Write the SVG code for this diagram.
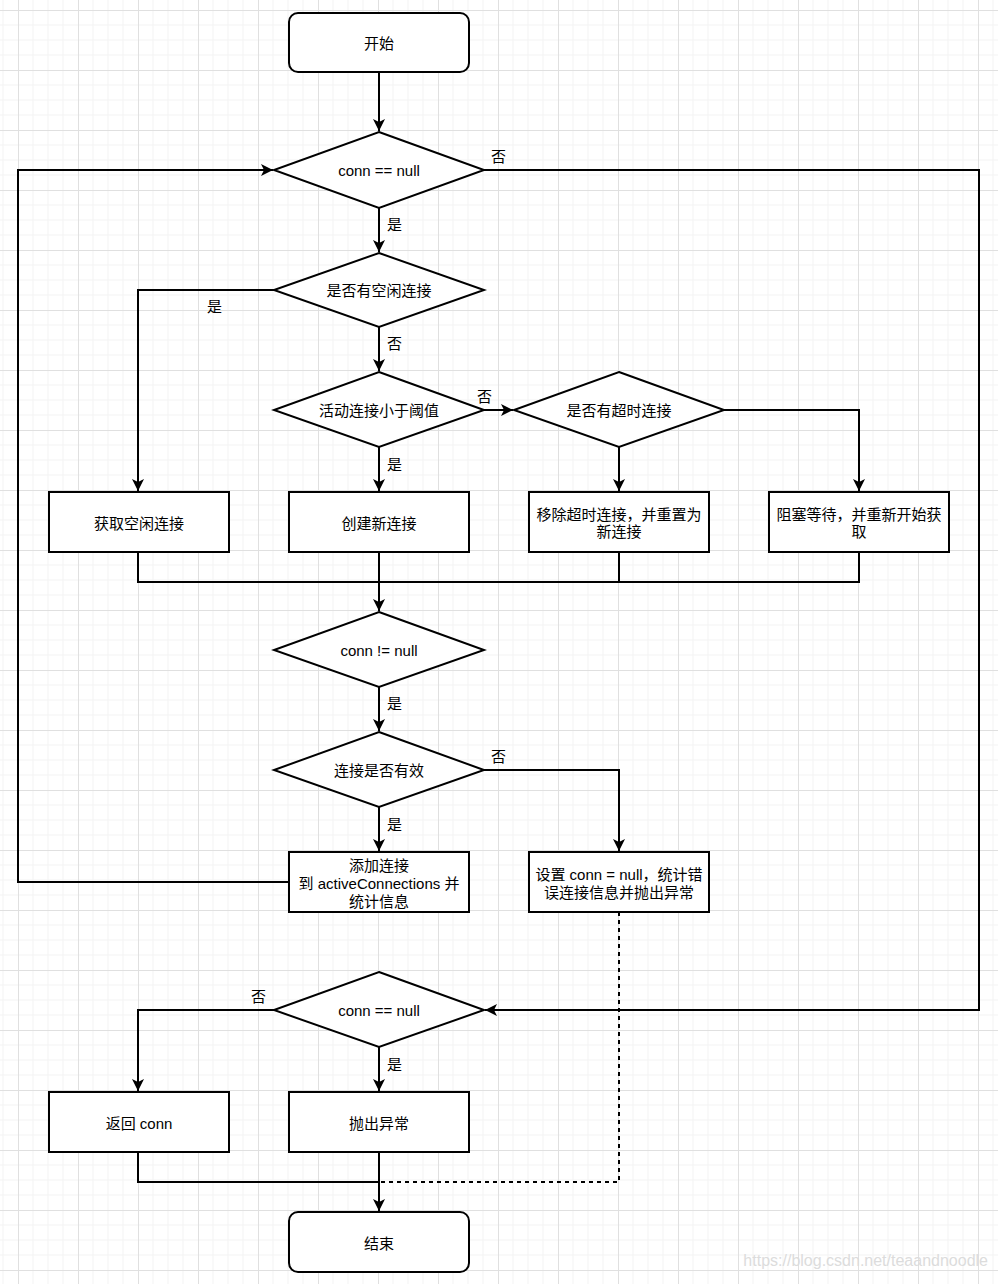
<svg xmlns="http://www.w3.org/2000/svg" width="998" height="1284" viewBox="0 0 998 1284">
<defs>
<pattern id="grid" patternUnits="userSpaceOnUse" x="18" y="10" width="60" height="60">
<path d="M15,0V60M30,0V60M45,0V60M0,15H60M0,30H60M0,45H60" stroke="#f3f3f3" stroke-width="1" fill="none"/>
<path d="M0.5,0V60M0,0.5H60" stroke="#e0e0e0" stroke-width="1" fill="none"/>
</pattern>
<marker id="arr" markerUnits="userSpaceOnUse" markerWidth="14" markerHeight="12" refX="12" refY="6" orient="auto">
<path d="M0,0 L12,6 L0,12 L3,6 Z" fill="#000"/>
</marker>
<style>
.n{fill:#fff;stroke:#000;stroke-width:2}
.t{font-family:"Liberation Sans","Noto Sans CJK SC",sans-serif;font-size:15px;fill:#000;text-anchor:middle;dominant-baseline:central}
.l{font-family:"Liberation Sans","Noto Sans CJK SC",sans-serif;font-size:15px;fill:#000;dominant-baseline:central}
.c{fill:none;stroke:#000;stroke-width:2}
.a{marker-end:url(#arr)}
.d{stroke-dasharray:4 4}
</style>
</defs>
<rect x="0" y="0" width="998" height="1284" fill="#fff"/>
<rect x="0" y="0" width="998" height="1284" fill="url(#grid)"/>

<g id="connectors">
<path class="c a" d="M379,72V131"/>
<path class="c a" d="M379,208V252"/>
<path class="c a" d="M274,290H138V491"/>
<path class="c a" d="M379,327V371"/>
<path class="c a" d="M484,410H513"/>
<path class="c a" d="M379,447V491"/>
<path class="c a" d="M619,447V491"/>
<path class="c a" d="M724,410H859V491"/>
<path class="c" d="M138,552V582H859V552M619,552V582"/>
<path class="c a" d="M379,552V611"/>
<path class="c a" d="M379,687V731"/>
<path class="c a" d="M379,807V851"/>
<path class="c a" d="M484,770H619V851"/>
<path class="c a" d="M289,882H18V170H273"/>
<path class="c a" d="M484,170H979V1010H485"/>
<path class="c a" d="M274,1010H138V1091"/>
<path class="c a" d="M379,1047V1091"/>
<path class="c" d="M138,1152V1182H379"/>
<path class="c d" d="M619,912V1182H379"/>
<path class="c a" d="M379,1152V1211"/>
<text class="l" x="491" y="156">否</text>
<text class="l" x="387" y="224">是</text>
<text class="l" x="207" y="306">是</text>
<text class="l" x="387" y="343">否</text>
<text class="l" x="477" y="396">否</text>
<text class="l" x="387" y="464">是</text>
<text class="l" x="387" y="703">是</text>
<text class="l" x="491" y="756">否</text>
<text class="l" x="387" y="824">是</text>
<text class="l" x="251" y="996">否</text>
<text class="l" x="387" y="1064">是</text>
</g>

<g id="start"><rect class="n" x="289" y="13" width="180" height="59" rx="9"/><text class="t" x="379" y="43">开始</text></g>
<g id="d1"><path class="n" d="M379,132L484,170L379,208L274,170Z"/><text class="t" x="379" y="170">conn == null</text></g>
<g id="d2"><path class="n" d="M379,253L484,290L379,327L274,290Z"/><text class="t" x="379" y="290">是否有空闲连接</text></g>
<g id="d3"><path class="n" d="M379,372L484,410L379,447L274,410Z"/><text class="t" x="379" y="410">活动连接小于阈值</text></g>
<g id="d4"><path class="n" d="M619,372L724,410L619,447L514,410Z"/><text class="t" x="619" y="410">是否有超时连接</text></g>
<g id="b1"><rect class="n" x="49" y="492" width="180" height="60"/><text class="t" x="139" y="523">获取空闲连接</text></g>
<g id="b2"><rect class="n" x="289" y="492" width="180" height="60"/><text class="t" x="379" y="523">创建新连接</text></g>
<g id="b3"><rect class="n" x="529" y="492" width="180" height="60"/><text class="t" x="619" y="514">移除超时连接，并重置为</text><text class="t" x="619" y="531">新连接</text></g>
<g id="b4"><rect class="n" x="769" y="492" width="180" height="60"/><text class="t" x="859" y="514">阻塞等待，并重新开始获</text><text class="t" x="859" y="531">取</text></g>
<g id="d5"><path class="n" d="M379,612L484,650L379,687L274,650Z"/><text class="t" x="379" y="650">conn != null</text></g>
<g id="d6"><path class="n" d="M379,732L484,770L379,807L274,770Z"/><text class="t" x="379" y="770">连接是否有效</text></g>
<g id="b5"><rect class="n" x="289" y="852" width="180" height="60"/><text class="t" x="379" y="865">添加连接</text><text class="t" x="379" y="883">到 activeConnections 并</text><text class="t" x="379" y="901">统计信息</text></g>
<g id="b6"><rect class="n" x="529" y="852" width="180" height="60"/><text class="t" x="619" y="874">设置 conn = null，统计错</text><text class="t" x="619" y="892">误连接信息并抛出异常</text></g>
<g id="d7"><path class="n" d="M379,972L484,1010L379,1047L274,1010Z"/><text class="t" x="379" y="1010">conn == null</text></g>
<g id="b7"><rect class="n" x="49" y="1092" width="180" height="60"/><text class="t" x="139" y="1123">返回 conn</text></g>
<g id="b8"><rect class="n" x="289" y="1092" width="180" height="60"/><text class="t" x="379" y="1123">抛出异常</text></g>
<g id="end"><rect class="n" x="289" y="1212" width="180" height="60" rx="9"/><text class="t" x="379" y="1243">结束</text></g>
<text x="988" y="1266" text-anchor="end" style="font-family:'Liberation Sans',sans-serif;font-size:16px;fill:#dcdcdc">https://blog.csdn.net/teaandnoodle</text>
</svg>
